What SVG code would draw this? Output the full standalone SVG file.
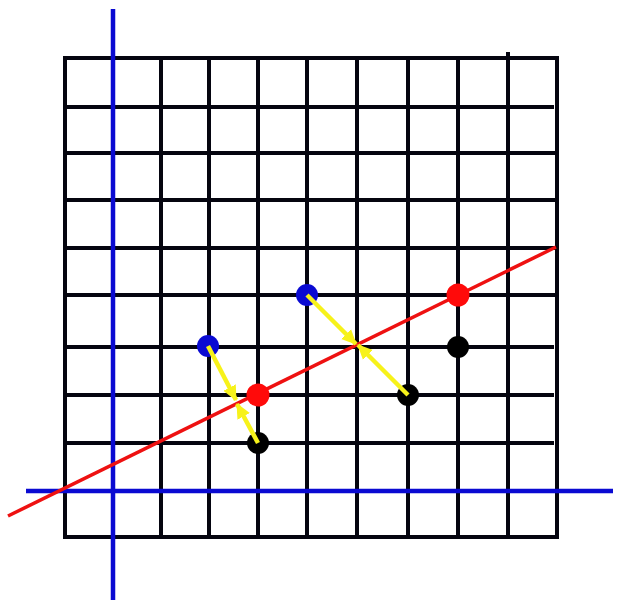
<svg xmlns="http://www.w3.org/2000/svg" width="623" height="606" viewBox="0 0 623 606">
<style>
.g line{stroke:#05050f;stroke-width:4;stroke-linecap:square}
.ax{stroke:#0a0ad2;stroke-width:4.5}
.rl{stroke:#ee1111;stroke-width:3.5}
.ya{stroke:#f7f21a;stroke-width:4.5;fill:none;marker-end:url(#ah)}
.red{fill:#ff0a0a}
.blk{fill:#000}
.blu{fill:#0a0ad2}
</style>
<defs>
<marker id="ah" markerUnits="userSpaceOnUse" markerWidth="18" markerHeight="16" refX="14" refY="8" orient="auto">
<path d="M0,1 L15,8 L0,15 Z" fill="#f7f21a"/>
</marker>
</defs>
<rect width="623" height="606" fill="#fff"/>
<g id="grid" class="g">
<line x1="65" y1="58" x2="557" y2="58"/>
<line x1="65" y1="107" x2="552" y2="107"/>
<line x1="65" y1="153" x2="557" y2="153"/>
<line x1="65" y1="200" x2="557" y2="200"/>
<line x1="65" y1="248" x2="557" y2="248"/>
<line x1="65" y1="295" x2="557" y2="295"/>
<line x1="65" y1="347" x2="552" y2="347"/>
<line x1="65" y1="395" x2="552" y2="395"/>
<line x1="65" y1="443" x2="552" y2="443"/>
<line x1="65" y1="491" x2="557" y2="491"/>
<line x1="65" y1="537" x2="557" y2="537"/>
<line x1="65" y1="58" x2="65" y2="537"/>
<line x1="113" y1="58" x2="113" y2="537"/>
<line x1="161" y1="58" x2="161" y2="537"/>
<line x1="209" y1="58" x2="209" y2="537"/>
<line x1="258" y1="58" x2="258" y2="537"/>
<line x1="307" y1="58" x2="307" y2="537"/>
<line x1="357" y1="58" x2="357" y2="537"/>
<line x1="408" y1="58" x2="408" y2="537"/>
<line x1="458" y1="58" x2="458" y2="537"/>
<line x1="508" y1="54" x2="508" y2="537"/>
<line x1="557" y1="58" x2="557" y2="537"/>
</g>
<g id="axes">
<line class="ax" x1="113" y1="9" x2="113" y2="600"/>
<line class="ax" x1="26" y1="491" x2="613" y2="491"/>
</g>
<g id="redline">
<line class="rl" x1="8" y1="516" x2="556" y2="247"/>
</g>
<g id="points">
<circle id="red1" class="red" cx="458" cy="295" r="11.5"/>
<circle id="red2" class="red" cx="258" cy="395" r="11.5"/>
<circle id="blk1" class="blk" cx="458" cy="347" r="11"/>
<circle id="blk2" class="blk" cx="408" cy="395" r="11"/>
<circle id="blk3" class="blk" cx="258" cy="443" r="11"/>
<circle id="blu1" class="blu" cx="307" cy="295" r="11"/>
<circle id="blu2" class="blu" cx="208" cy="346" r="11"/>
</g>
<g id="connectors">
<path class="ya" d="M208,346 L236,400"/>
<path class="ya" d="M258,443 L237,404"/>
<path class="ya" d="M307,295 L356,344"/>
<path class="ya" d="M408,395 L358,345"/>
</g>
</svg>
